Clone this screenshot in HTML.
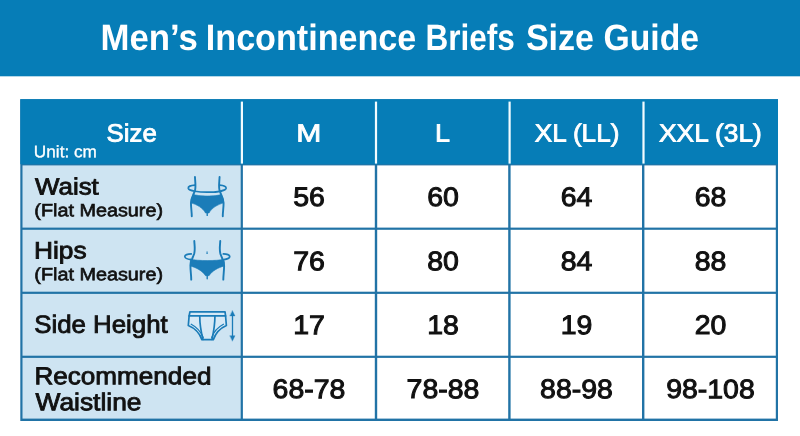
<!DOCTYPE html>
<html lang="en">
<head>
<meta charset="utf-8">
<title>Men’s Incontinence Briefs Size Guide</title>
<style>
html,body{margin:0;padding:0;}
body{width:800px;height:436px;position:relative;overflow:hidden;background:#fff;font-family:"Liberation Sans",sans-serif;text-rendering:geometricPrecision;}
.a{position:absolute;}
h1{margin:0;padding:0;font-size:inherit;font-weight:normal;}
.t{position:absolute;left:0;top:0;white-space:nowrap;line-height:1;transform-origin:0 0;}
.v{width:120px;text-align:center;color:#111;-webkit-text-stroke:1.0px #111;}
</style>
</head>
<body>
<svg class="a" style="left:0;top:0" width="800" height="436" viewBox="0 0 800 436">
<rect x="0" y="0" width="800" height="76.3" fill="#067db7"/>
<rect x="20.3" y="99.2" width="757.7" height="321.8" fill="#2173a6"/>
<rect x="20.3" y="99.2" width="757.7" height="65.0" fill="#067db7"/>
<rect x="240.8" y="101.6" width="2.2" height="62.0" fill="#f2fcff"/>
<rect x="374.9" y="101.6" width="2.2" height="62.0" fill="#f2fcff"/>
<rect x="508.5" y="101.6" width="2.2" height="62.0" fill="#f2fcff"/>
<rect x="642.4" y="101.6" width="2.2" height="62.0" fill="#f2fcff"/>
<rect x="22.5" y="165.4" width="218.2" height="62.2" fill="#cee4f2"/>
<rect x="242.9" y="165.4" width="131.9" height="62.2" fill="#fff"/>
<rect x="377.2" y="165.4" width="131.0" height="62.2" fill="#fff"/>
<rect x="510.6" y="165.4" width="131.4" height="62.2" fill="#fff"/>
<rect x="644.4" y="165.4" width="131.4" height="62.2" fill="#fff"/>
<rect x="22.5" y="229.8" width="218.2" height="61.9" fill="#cee4f2"/>
<rect x="242.9" y="229.8" width="131.9" height="61.9" fill="#fff"/>
<rect x="377.2" y="229.8" width="131.0" height="61.9" fill="#fff"/>
<rect x="510.6" y="229.8" width="131.4" height="61.9" fill="#fff"/>
<rect x="644.4" y="229.8" width="131.4" height="61.9" fill="#fff"/>
<rect x="22.5" y="293.9" width="218.2" height="61.8" fill="#cee4f2"/>
<rect x="242.9" y="293.9" width="131.9" height="61.8" fill="#fff"/>
<rect x="377.2" y="293.9" width="131.0" height="61.8" fill="#fff"/>
<rect x="510.6" y="293.9" width="131.4" height="61.8" fill="#fff"/>
<rect x="644.4" y="293.9" width="131.4" height="61.8" fill="#fff"/>
<rect x="22.5" y="357.9" width="218.2" height="60.7" fill="#cee4f2"/>
<rect x="242.9" y="357.9" width="131.9" height="60.7" fill="#fff"/>
<rect x="377.2" y="357.9" width="131.0" height="60.7" fill="#fff"/>
<rect x="510.6" y="357.9" width="131.4" height="60.7" fill="#fff"/>
<rect x="644.4" y="357.9" width="131.4" height="60.7" fill="#fff"/>
</svg>
<svg class="a" style="left:0;top:0" width="800" height="436" viewBox="0 0 800 436" fill="none" stroke-linecap="round" stroke-linejoin="round">
<path d="M 194.96,177.05 C 195.23,182.64 196.03,186.63 194.96,190.62 C 193.63,194.62 190.97,197.94 190.97,203.27 C 190.97,207.93 191.77,211.92 191.77,216.18" stroke="#1b7cb8" stroke-width="1.9"/>
<path d="M 219.58,177.05 C 219.32,182.64 218.52,186.63 219.58,190.62 C 220.91,194.62 223.58,197.94 223.58,203.27 C 223.58,207.93 222.78,211.92 222.78,216.18" stroke="#1b7cb8" stroke-width="1.9"/>
<path d="M 194.96,185.03 C 190.3,185.3 188.04,186.63 188.31,188.23 C 188.84,190.89 198.96,192.22 207.21,192.22 C 215.59,192.22 225.57,190.89 226.1,188.23 C 226.37,186.63 224.24,185.3 219.58,185.03" stroke="#1b7cb8" stroke-width="1.7"/>
<path d="M 193.37,194.35 C 197.62,196.61 216.92,196.61 221.18,194.35 C 222.38,196.61 223.71,199.27 223.71,202.87 C 217.59,204.6 211.6,207.93 209.07,212.98 L 205.48,212.98 C 202.95,207.93 196.96,204.6 190.84,202.87 C 190.84,199.27 192.17,196.61 193.37,194.35 Z" fill="#1b7cb8" stroke="#1b7cb8" stroke-width="0.6"/>
<path d="M 207.21,212.58 L 207.21,215.38" stroke="#1b7cb8" stroke-width="1.4"/>
<path d="M 194.3,241.05 C 194.56,245.97 195.23,249.3 194.3,253.29 C 192.97,257.95 190.44,260.61 190.44,265.94 C 190.44,271.26 191.24,275.25 191.24,279.64" stroke="#1b7cb8" stroke-width="1.9"/>
<path d="M 220.25,241.05 C 219.98,245.97 219.32,249.3 220.25,253.29 C 221.58,257.95 224.11,260.61 224.11,265.94 C 224.11,271.26 223.31,275.25 223.31,279.64" stroke="#1b7cb8" stroke-width="1.9"/>
<path d="M 191.24,253.96 C 187.64,253.96 184.58,254.89 184.85,256.75 C 185.11,258.35 187.64,259.28 190.7,259.68" stroke="#1b7cb8" stroke-width="1.7"/>
<path d="M 223.31,253.96 C 226.9,253.96 229.96,254.89 229.7,256.75 C 229.43,258.35 226.9,259.28 223.84,259.68" stroke="#1b7cb8" stroke-width="1.7"/>
<path d="M 190.7,259.28 C 197.62,261.01 216.92,261.01 223.84,259.28 C 224.37,261.94 224.51,263.94 224.24,265.94 C 218.25,267.67 212.0,270.86 209.07,275.65 L 205.48,275.65 C 202.55,270.86 196.29,267.67 190.3,265.94 C 190.04,263.94 190.17,261.94 190.7,259.28 Z" fill="#1b7cb8" stroke="#1b7cb8" stroke-width="0.6"/>
<path d="M 207.21,275.25 L 207.21,278.85" stroke="#1b7cb8" stroke-width="1.4"/>
<circle cx="207.07" cy="253.29" r="0.8" fill="#1b7cb8"/>
<path d="M 207.07,251.7 L 207.07,252.5" stroke="#1b7cb8" stroke-width="0.8"/>
<path d="M 189.91,311.97 L 225.04,311.97 L 225.57,315.96 L 226.37,325.54 C 220.91,327.94 215.59,333.26 213.33,339.65 L 201.88,339.65 C 199.62,333.26 194.3,327.94 188.31,325.54 L 189.11,315.96 Z" stroke="#1b7cb8" stroke-width="1.7" fill="#d6e9f6"/>
<path d="M 189.11,315.96 L 225.57,315.96" stroke="#1b7cb8" stroke-width="1.7"/>
<path d="M 199.75,316.23 C 199.75,323.95 201.08,331.93 202.95,339.39" stroke="#1b7cb8" stroke-width="1.7"/>
<path d="M 214.93,316.23 C 214.93,323.95 213.59,331.93 212.0,339.39" stroke="#1b7cb8" stroke-width="1.7"/>
<path d="M 191.24,324.21 C 196.29,326.88 200.95,331.67 203.21,337.52" stroke="#1b7cb8" stroke-width="1.3"/>
<path d="M 223.44,324.21 C 218.39,326.88 213.73,331.67 211.73,337.52" stroke="#1b7cb8" stroke-width="1.3"/>
<path d="M 232.49,313.97 L 232.49,337.92" stroke="#1b7cb8" stroke-width="1.3"/>
<path d="M 232.49,310.64 L 235.02,315.96 L 229.96,315.96 Z" fill="#1b7cb8" stroke="#1b7cb8" stroke-width="0.3"/>
<path d="M 232.49,340.98 L 235.02,335.66 L 229.96,335.66 Z" fill="#1b7cb8" stroke="#1b7cb8" stroke-width="0.3"/>
</svg>
<h1><span class="t" style="font-size:36.7px;font-weight:bold;color:#fff;transform:translate(100.6px,20.05px) rotate(0.03deg) scaleX(0.9475);">Men’s </span>
<span class="t" style="font-size:36.7px;font-weight:bold;color:#fff;transform:translate(205.81px,20.3px) rotate(0.03deg) scaleX(0.9304);">Incontinence </span>
<span class="t" style="font-size:36.7px;font-weight:bold;color:#fff;transform:translate(425.42px,20.3px) rotate(0.03deg) scaleX(0.8595);">Briefs </span>
<span class="t" style="font-size:36.7px;font-weight:bold;color:#fff;transform:translate(525.93px,20.3px) rotate(0.03deg) scaleX(0.9277);">Size </span>
<span class="t" style="font-size:36.7px;font-weight:bold;color:#fff;transform:translate(603.58px,20.3px) rotate(0.03deg) scaleX(0.9185);">Guide</span></h1>
<div class="t" style="font-size:25.02px;color:#fff;-webkit-text-stroke:0.8px #fff;transform:translate(106.58px,121.53px) rotate(0.03deg) scaleX(1.0325);">Size</div>
<div class="t" style="font-size:16.56px;color:#fff;-webkit-text-stroke:0.3px #fff;transform:translate(33.84px,144.16px) rotate(0.03deg) scaleX(1.039);">Unit: cm</div>
<div class="t" style="font-size:24.96px;color:#fff;-webkit-text-stroke:0.8px #fff;transform:translate(296.33px,121.43px) rotate(0.03deg) scaleX(1.2072);">M</div>
<div class="t" style="font-size:24.96px;color:#fff;-webkit-text-stroke:0.8px #fff;transform:translate(434.93px,121.41px) rotate(0.03deg) scaleX(1.0813);">L</div>
<div class="t" style="font-size:24.96px;color:#fff;-webkit-text-stroke:0.8px #fff;transform:translate(534.73px,121.41px) rotate(0.03deg) scaleX(1.046);">XL (LL)</div>
<div class="t" style="font-size:24.96px;color:#fff;-webkit-text-stroke:0.8px #fff;transform:translate(659.08px,121.41px) rotate(0.03deg) scaleX(1.0537);">XXL (3L)</div>
<div class="t" style="font-size:23.52px;color:#111;-webkit-text-stroke:0.85px #111;transform:translate(35.07px,175.41px) rotate(0.03deg) scaleX(1.1008);">Waist</div>
<div class="t" style="font-size:17.78px;color:#111;-webkit-text-stroke:0.65px #111;transform:translate(34.3px,202.2px) rotate(0.03deg) scaleX(1.115);">(Flat Measure)</div>
<div class="t" style="font-size:23.88px;color:#111;-webkit-text-stroke:0.85px #111;transform:translate(33.99px,239.51px) rotate(0.03deg) scaleX(1.1014);">Hips</div>
<div class="t" style="font-size:17.78px;color:#111;-webkit-text-stroke:0.65px #111;transform:translate(34.3px,266.2px) rotate(0.03deg) scaleX(1.115);">(Flat Measure)</div>
<div class="t" style="font-size:24.86px;color:#111;-webkit-text-stroke:0.85px #111;transform:translate(34.26px,312.79px) rotate(0.03deg) scaleX(1.0386);">Side Height</div>
<div class="t" style="font-size:24.41px;color:#111;-webkit-text-stroke:0.85px #111;transform:translate(34.44px,365.29px) rotate(0.03deg) scaleX(1.0693);">Recommended</div>
<div class="t" style="font-size:24.41px;color:#111;-webkit-text-stroke:0.85px #111;transform:translate(35.54px,391.25px) rotate(0.03deg) scaleX(1.0798);">Waistline</div>
<div class="t v" style="font-size:26.87px;transform:translate(245.45px,183.87px) rotate(0.03deg) scaleX(1.0591);">56</div>
<div class="t v" style="font-size:26.87px;transform:translate(379.45px,183.87px) rotate(0.03deg) scaleX(1.0591);">60</div>
<div class="t v" style="font-size:26.87px;transform:translate(512.95px,183.87px) rotate(0.03deg) scaleX(1.0591);">64</div>
<div class="t v" style="font-size:26.87px;transform:translate(646.95px,183.87px) rotate(0.03deg) scaleX(1.0591);">68</div>
<div class="t v" style="font-size:26.87px;transform:translate(245.45px,248.11px) rotate(0.03deg) scaleX(1.0591);">76</div>
<div class="t v" style="font-size:26.87px;transform:translate(379.45px,248.11px) rotate(0.03deg) scaleX(1.0591);">80</div>
<div class="t v" style="font-size:26.87px;transform:translate(512.95px,248.11px) rotate(0.03deg) scaleX(1.0591);">84</div>
<div class="t v" style="font-size:26.87px;transform:translate(646.95px,248.11px) rotate(0.03deg) scaleX(1.0591);">88</div>
<div class="t v" style="font-size:26.87px;transform:translate(245.45px,312.1px) rotate(0.03deg) scaleX(1.0591);">17</div>
<div class="t v" style="font-size:26.87px;transform:translate(379.45px,312.1px) rotate(0.03deg) scaleX(1.0591);">18</div>
<div class="t v" style="font-size:26.87px;transform:translate(512.95px,312.1px) rotate(0.03deg) scaleX(1.0591);">19</div>
<div class="t v" style="font-size:26.87px;transform:translate(646.95px,312.1px) rotate(0.03deg) scaleX(1.0591);">20</div>
<div class="t v" style="font-size:26.87px;transform:translate(245.45px,376.1px) rotate(0.03deg) scaleX(1.0591);">68-78</div>
<div class="t v" style="font-size:26.87px;transform:translate(379.45px,376.1px) rotate(0.03deg) scaleX(1.0591);">78-88</div>
<div class="t v" style="font-size:26.87px;transform:translate(512.95px,376.1px) rotate(0.03deg) scaleX(1.0591);">88-98</div>
<div class="t v" style="font-size:26.87px;transform:translate(646.95px,376.1px) rotate(0.03deg) scaleX(1.0591);">98-108</div>
</body>
</html>
